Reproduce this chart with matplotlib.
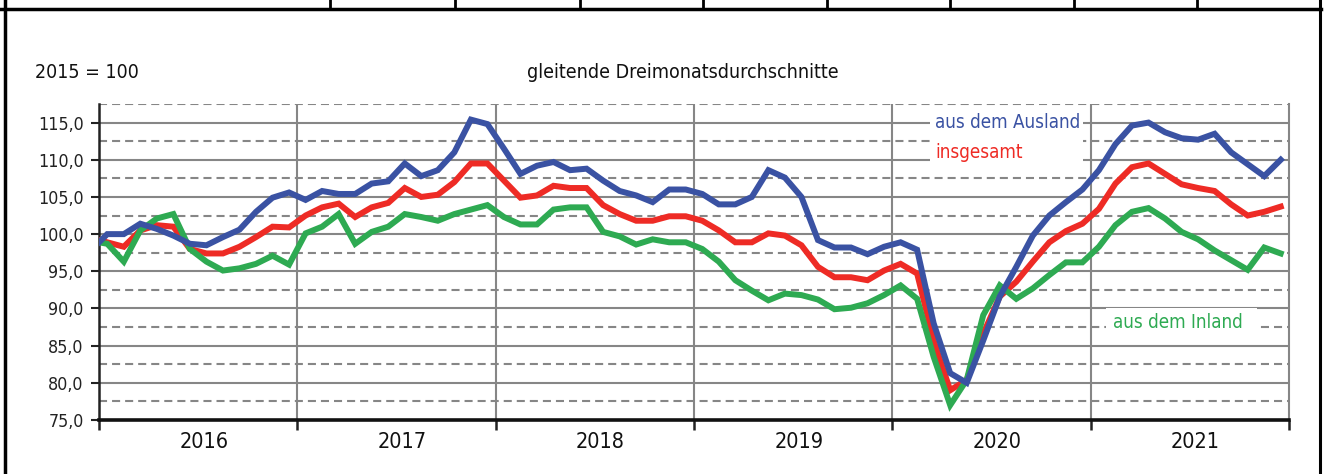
import matplotlib
matplotlib.use("Agg")
import matplotlib.pyplot as plt
from matplotlib.lines import Line2D
from matplotlib.patches import Rectangle
from matplotlib import font_manager
import numpy as np

# ---- data ----
years = ["2016", "2017", "2018", "2019", "2020", "2021"]
# first value = Dec 2015 (lead-in, clipped at the left axis), then Jan 2016 .. Dec 2021
ausland = [97.8,
           100.0, 100.0, 101.4, 100.7, 99.8, 98.7, 98.5, 99.6, 100.6, 103.0, 104.9, 105.6,
           104.6, 105.8, 105.4, 105.4, 106.8, 107.1, 109.5, 107.8, 108.6, 111.0, 115.4, 114.8,
           111.5, 108.1, 109.2, 109.7, 108.6, 108.8, 107.2, 105.8, 105.2, 104.3, 106.0, 106.0,
           105.4, 104.0, 104.0, 105.0, 108.6, 107.6, 105.0, 99.2, 98.2, 98.2, 97.3, 98.3,
           98.9, 97.9, 88.0, 81.3, 80.0, 85.7, 91.6, 95.6, 99.8, 102.5, 104.3, 106.0,
           108.6, 112.1, 114.6, 115.0, 113.7, 112.9, 112.7, 113.5, 111.0, 109.4, 107.8, 110.0]
insgesamt = [99.5,
             98.9, 98.3, 100.5, 101.2, 101.0, 98.0, 97.4, 97.4, 98.3, 99.6, 101.0, 100.9,
             102.5, 103.6, 104.1, 102.3, 103.6, 104.2, 106.2, 105.0, 105.3, 107.0, 109.5, 109.5,
             107.2, 104.9, 105.2, 106.5, 106.2, 106.2, 103.9, 102.7, 101.8, 101.8, 102.4, 102.4,
             101.8, 100.5, 98.9, 98.9, 100.1, 99.8, 98.5, 95.6, 94.2, 94.2, 93.8, 95.1,
             96.0, 94.7, 85.7, 79.0, 80.4, 86.6, 91.6, 93.6, 96.3, 98.9, 100.4, 101.4,
             103.4, 106.8, 109.0, 109.5, 108.1, 106.7, 106.2, 105.8, 104.0, 102.5, 103.0, 103.7]
inland = [99.1,
          98.7, 96.3, 100.5, 102.1, 102.7, 98.0, 96.3, 95.1, 95.4, 96.0, 97.1, 95.9,
          100.1, 101.0, 102.7, 98.7, 100.3, 101.0, 102.7, 102.3, 101.8, 102.7, 103.3, 103.9,
          102.3, 101.3, 101.3, 103.3, 103.6, 103.6, 100.3, 99.7, 98.6, 99.3, 98.9, 98.9,
          98.0, 96.3, 93.8, 92.4, 91.1, 92.0, 91.8, 91.2, 89.9, 90.1, 90.7, 91.8,
          93.1, 91.3, 83.5, 77.0, 80.4, 89.1, 93.1, 91.3, 92.7, 94.5, 96.2, 96.2,
          98.3, 101.2, 103.0, 103.5, 102.1, 100.3, 99.3, 97.8, 96.5, 95.2, 98.2, 97.4]
ytick_vals = [75, 80, 85, 90, 95, 100, 105, 110, 115]
ytick_labels = ["75,0", "80,0", "85,0", "90,0", "95,0", "100,0", "105,0", "110,0", "115,0"]

fl = font_manager.fontManager.ttflist
names = [f.name for f in fl]
has_cond = any(f.name == "DejaVu Sans" and str(f.stretch) in ("condensed", "semi-condensed", "600", "500")
               for f in fl)
if "Liberation Sans Narrow" in names:
    FONT, STRETCH = ["Liberation Sans Narrow", "DejaVu Sans"], "normal"
elif has_cond:
    FONT, STRETCH = ["DejaVu Sans"], "condensed"
else:
    FONT, STRETCH = ["Liberation Sans", "DejaVu Sans"], "normal"
plt.rcParams["font.family"] = FONT
plt.rcParams["font.stretch"] = STRETCH
plt.rcParams["lines.scale_dashes"] = False

C_BLUE = "#3A52A3"
C_RED = "#EE2B25"
C_GREEN = "#2EAA52"
GRID = "#868686"

W, H = 1325, 474
fig = plt.figure(figsize=(W / 100, H / 100), dpi=100)

def fx(px):
    return px / W

def fy(py):
    return 1 - py / H

ax = fig.add_axes([fx(99), fy(420), fx(1289) - fx(99), fy(104) - fy(420)])
n = len(years) * 12
x = np.arange(-1, n) + 0.5
ax.set_xlim(0, n)
ax.set_ylim(75, 117.5)

# grid
for v in ytick_vals[1:]:
    ax.axhline(v, color=GRID, lw=1.5, zorder=1)
for v in np.arange(77.5, 118, 5):
    ax.axhline(v, color=GRID, lw=1.5, ls=(0, (5.8, 3.6)), zorder=1)
for k in range(1, len(years)):
    ax.axvline(k * 12, color=GRID, lw=1.5, zorder=1)

ax.plot(x, insgesamt, color=C_RED, lw=4.3, zorder=3, solid_joinstyle="miter")
ax.plot(x, inland, color=C_GREEN, lw=4.3, zorder=4, solid_joinstyle="miter")
ax.plot(x, ausland, color=C_BLUE, lw=4.3, zorder=5, solid_joinstyle="miter")

# spines & ticks
ax.spines["top"].set_visible(False)
ax.spines["right"].set_color(GRID)
ax.spines["right"].set_linewidth(1.5)
ax.spines["left"].set_color("#222222")
ax.spines["left"].set_linewidth(1.8)
ax.spines["bottom"].set_color("#111111")
ax.spines["bottom"].set_linewidth(2.6)
ax.set_yticks(ytick_vals)
ax.set_yticklabels(ytick_labels, fontsize=12.8, color="#222222")
ax.tick_params(axis="y", length=6, width=1.5, color="#222222", pad=5)
ax.set_xticks([k * 12 for k in range(len(years) + 1)])
ax.set_xticklabels([])
ax.tick_params(axis="x", length=7, width=1.8, color="#222222")
for i, yr in enumerate(years):
    ax.text(i * 12 + 6.35, -0.07, yr, transform=ax.get_xaxis_transform(),
            ha="center", va="center", fontsize=15.5, color="#111111")

# label boxes
ax.add_patch(Rectangle(((930 - 99) / 1190, 109.7), (1083 - 930) / 1190, 7.2,
                       transform=ax.get_yaxis_transform(), facecolor="white",
                       edgecolor="none", zorder=2))
ax.add_patch(Rectangle(((1106 - 99) / 1190, 86.0), (1257 - 1106) / 1190, 4.0,
                       transform=ax.get_yaxis_transform(), facecolor="white",
                       edgecolor="none", zorder=2))
fig.text(fx(935), fy(122), "aus dem Ausland", color=C_BLUE, fontsize=13.5, ha="left", va="center")
fig.text(fx(935), fy(152), "insgesamt", color=C_RED, fontsize=13.5, ha="left", va="center")
fig.text(fx(1113), fy(323), "aus dem Inland", color=C_GREEN, fontsize=13.5, ha="left", va="center")

# headers
fig.text(fx(35), fy(73), "2015 = 100", fontsize=14, ha="left", va="center", color="#111111")
fig.text(fx(683), fy(73), "gleitende Dreimonatsdurchschnitte", fontsize=14, ha="center",
         va="center", color="#111111")

# outer frame
def fline(x0, y0, x1, y1, lw=2.5):
    fig.add_artist(Line2D([fx(x0), fx(x1)], [fy(y0), fy(y1)], color="black", lw=lw,
                          transform=fig.transFigure))

fline(0, 9, 1321, 9, 2.5)
fline(4.5, 0, 4.5, H, 2.5)
fline(1320, 0, 1320, H, 2.2)
for px in [330, 455, 580, 703, 827, 950, 1074, 1197]:
    fline(px, 0, px, 9, 2.0)

fig.savefig("out.png", dpi=100)
